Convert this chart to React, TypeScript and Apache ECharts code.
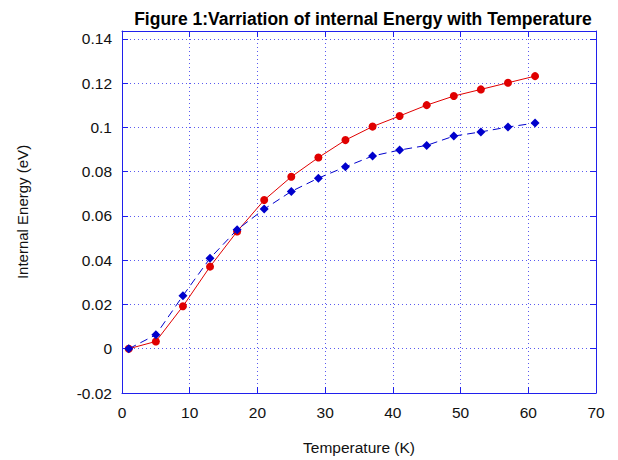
import React, { useEffect, useRef } from "react";
import * as echarts from "echarts";

const temperatures = [1, 5, 9, 13, 17, 21, 25, 29, 33, 37, 41, 45, 49, 53, 57, 61];
const redSeries = [0, 0.0033, 0.0192, 0.0371, 0.053, 0.0672, 0.0777, 0.0864, 0.0943, 0.1004, 0.1052, 0.1101, 0.1142, 0.1172, 0.1202, 0.1232];
const blueSeries = [0, 0.0063, 0.024, 0.0409, 0.0538, 0.0631, 0.0711, 0.0771, 0.0822, 0.0871, 0.0898, 0.0919, 0.0961, 0.098, 0.1002, 0.102];
const yTickLabels = ["-0.02", "0", "0.02", "0.04", "0.06", "0.08", "0.1", "0.12", "0.14"];

const FRAME = "#2020ec";
const GRIDC = "#5a5af0";
const FONT = "'Liberation Sans', Arial, sans-serif";

export default function App() {
  const ref = useRef<HTMLDivElement>(null);
  useEffect(() => {
    const chart = echarts.init(ref.current!, null, { renderer: "svg" });
    const yFmt = (v: number) => {
      const r = Math.round(v * 100) / 100;
      if (Math.abs(r - v) > 1e-6) return "";
      const s = String(r);
      return yTickLabels.includes(s) ? s : "";
    };
    const line = { show: true, onZero: false, lineStyle: { color: FRAME, width: 1 } };
    const tick = { show: true, inside: true, length: 6, lineStyle: { color: FRAME } };
    chart.setOption({
      animation: false,
      backgroundColor: "#ffffff",
      title: {
        text: "Figure 1:Varriation of internal Energy with Temperature",
        left: 358,
        top: 5,
        textAlign: "center",
        textStyle: { fontFamily: FONT, fontSize: 17.5, fontWeight: "bold", color: "#000" },
      },
      grid: { left: 122, right: 22, top: 31, bottom: 66 },
      xAxis: [
        {
          type: "value",
          min: 0,
          max: 70,
          interval: 10,
          name: "Temperature (K)",
          nameLocation: "middle",
          nameGap: 46,
          nameTextStyle: { fontFamily: FONT, fontSize: 15.5, color: "#111" },
          axisLine: line,
          axisTick: tick,
          axisLabel: { fontFamily: FONT, fontSize: 15.5, color: "#111", margin: 11 },
          splitLine: { show: true, lineStyle: { color: GRIDC, type: [1, 3], width: 1 } },
        },
        {
          type: "value",
          position: "top",
          min: 0,
          max: 70,
          interval: 10,
          axisLine: line,
          axisTick: tick,
          axisLabel: { show: false },
          splitLine: { show: false },
        },
      ],
      yAxis: [
        {
          type: "value",
          min: -0.02,
          max: 0.1436,
          interval: 0.02,
          name: "Internal Energy (eV)",
          nameLocation: "middle",
          nameGap: 92,
          nameTextStyle: { fontFamily: FONT, fontSize: 15, color: "#111" },
          axisLine: line,
          axisTick: tick,
          axisLabel: { fontFamily: FONT, fontSize: 15.5, color: "#111", margin: 10, formatter: yFmt },
          splitLine: { show: true, lineStyle: { color: GRIDC, type: [1, 3], width: 1 } },
        },
        {
          type: "value",
          position: "right",
          min: -0.02,
          max: 0.1436,
          interval: 0.02,
          axisLine: line,
          axisTick: tick,
          axisLabel: { show: false },
          splitLine: { show: false },
        },
      ],
      series: [
        {
          type: "line",
          data: temperatures.map((t, i) => [t, redSeries[i]]),
          symbol: "circle",
          symbolSize: 8,
          itemStyle: { color: "#e00000" },
          lineStyle: { color: "#e00000", width: 1 },
          z: 3,
        },
        {
          type: "line",
          data: temperatures.map((t, i) => [t, blueSeries[i]]),
          symbol: "diamond",
          symbolSize: 9,
          itemStyle: { color: "#0000cc" },
          lineStyle: { color: "#0000cc", width: 1, type: [8, 5] },
          z: 4,
        },
      ],
    });
    return () => chart.dispose();
  }, []);
  return <div ref={ref} style={{ width: 618, height: 460, position: "absolute", left: 0, top: 0 }} />;
}
